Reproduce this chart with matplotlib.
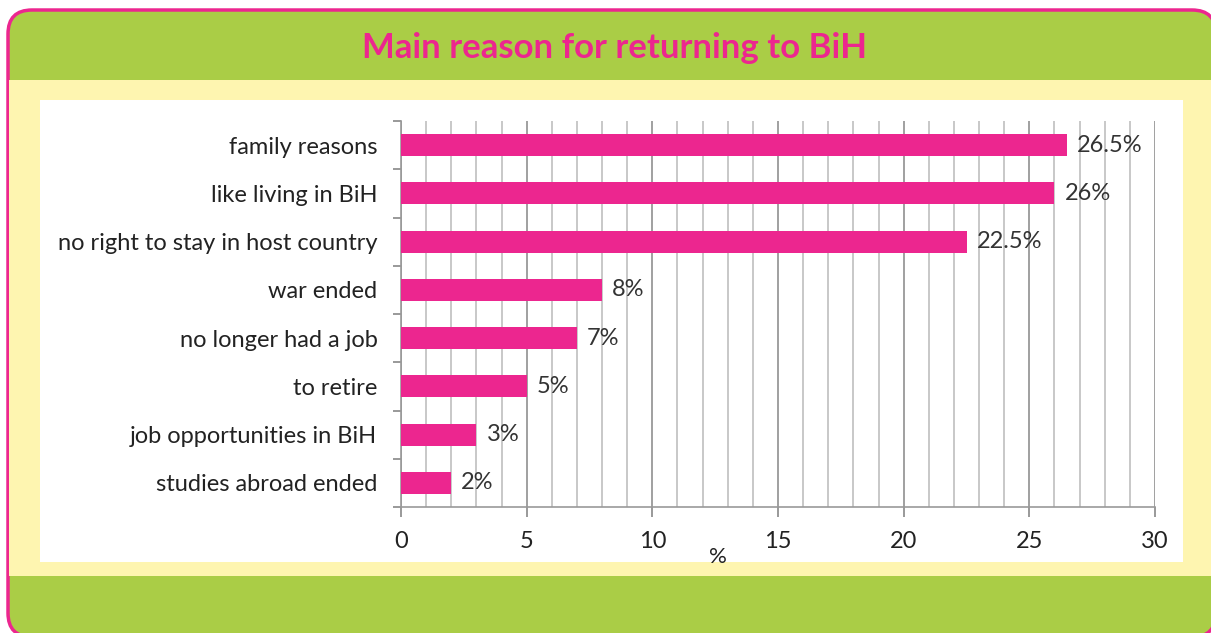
import matplotlib.pyplot as plt
from matplotlib.patches import FancyBboxPatch, Rectangle
from matplotlib.ticker import MultipleLocator, FixedLocator

# Data
reasons = ['family reasons', 'like living in BiH', 'no right to stay in host country',
           'war ended', 'no longer had a job', 'to retire',
           'job opportunities in BiH', 'studies abroad ended']
shares = [26.5, 26, 22.5, 8, 7, 5, 3, 2]
share_labels = ['26.5%', '26%', '22.5%', '8%', '7%', '5%', '3%', '2%']

pink = '#EC268F'
green = '#AACD46'
cream = '#FEF5B0'
W, H = 1211, 633

plt.rcParams['font.family'] = ['Lato', 'DejaVu Sans']
fig = plt.figure(figsize=(W / 100, H / 100), dpi=100)

# background panel drawn in pixel units
bg = fig.add_axes([0, 0, 1, 1])
bg.set_xlim(0, W)
bg.set_ylim(H, 0)
bg.axis('off')
bg.add_patch(FancyBboxPatch((8, 10), 1208, 627, boxstyle='round,pad=0,rounding_size=24',
                            facecolor=green, edgecolor=pink, linewidth=2.5))
bg.add_patch(Rectangle((9, 80), 1206, 496, facecolor=cream, edgecolor='none'))
bg.add_patch(Rectangle((40, 100), 1143, 462, facecolor='white', edgecolor='none'))
bg.text(615, 48, 'Main reason for returning to BiH', color=pink, fontsize=25,
        fontweight='bold', ha='center', va='center')

# bar chart
ax = fig.add_axes([401 / W, (H - 507) / H, (1155 - 401) / W, (507 - 121) / H])
ax.set_facecolor('none')
y = list(range(len(reasons)))
ax.barh(y, shares, height=0.46, color=pink, zorder=3)
for yi, v, lab in zip(y, shares, share_labels):
    ax.text(v + 0.4, yi, lab, va='center', ha='left', fontsize=17, color='#333333', zorder=4)

ax.set_xlim(0, 30)
ax.set_ylim(len(reasons) - 0.5, -0.5)
ax.xaxis.set_major_locator(MultipleLocator(5))
ax.xaxis.set_minor_locator(MultipleLocator(1))
ax.grid(axis='x', which='minor', color='#c8c8c8', linewidth=1.4, zorder=1)
ax.grid(axis='x', which='major', color='#a0a0a0', linewidth=1.4, zorder=1)
ax.set_yticks(y)
ax.set_yticklabels(reasons, fontsize=17, color='#222222')
ax.yaxis.set_minor_locator(FixedLocator([i - 0.5 for i in range(len(reasons) + 1)]))
ax.tick_params(axis='y', which='major', length=0, pad=17)
ax.tick_params(axis='y', which='minor', length=6, color='#888888', width=1.2)
ax.tick_params(axis='x', which='major', length=7, color='#888888', width=1.2,
               labelsize=17, labelcolor='#222222', pad=10)
ax.tick_params(axis='x', which='minor', length=0)
for side in ['top', 'right']:
    ax.spines[side].set_visible(False)
for side in ['left', 'bottom']:
    ax.spines[side].set_color('#999999')
    ax.spines[side].set_linewidth(1.2)

fig.text(718 / W, 1 - 557 / H, '%', fontsize=16, color='#222222', ha='center', va='center')

fig.savefig('out.png', dpi=100)
